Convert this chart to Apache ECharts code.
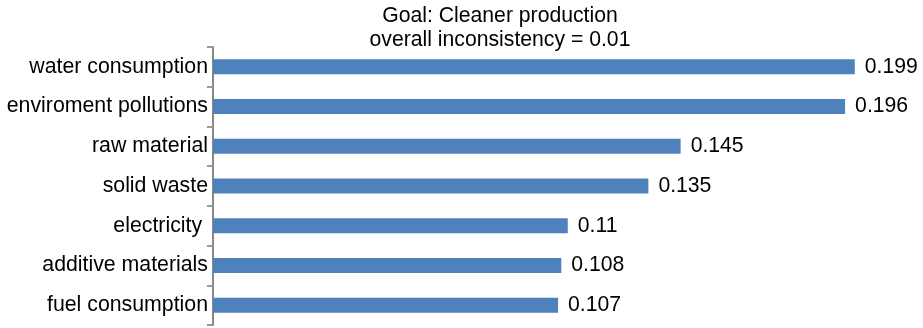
<!DOCTYPE html>
<html>
<head>
<meta charset="utf-8">
<script src="https://cdn.jsdelivr.net/npm/echarts@6/dist/echarts.min.js"></script>
<style>
  html, body { margin: 0; padding: 0; background: #fff; }
  #main { width: 923px; height: 328px; }
</style>
</head>
<body>
<div id="main"></div>
<script>
// criteria, listed bottom to top for the category axis
var categories = ['fuel consumption', 'additive materials', 'electricity ', 'solid waste', 'raw material', 'enviroment pollutions', 'water consumption'];
var weights = [0.107, 0.108, 0.11, 0.135, 0.145, 0.196, 0.199];
var titleLines = ['Goal: Cleaner production', 'overall inconsistency = 0.01'];

var chart = echarts.init(document.getElementById('main'));
chart.setOption({
  animation: false,
  textStyle: { fontFamily: 'Liberation Sans, Arial, sans-serif' },
  title: {
    text: titleLines.join('\n'),
    left: 495,
    top: -1,
    textAlign: 'center',
    textStyle: { fontSize: 21.2, fontWeight: 'normal', color: '#000', lineHeight: 24 }
  },
  grid: { left: 213, right: 65, top: 47, bottom: 3 },
  xAxis: {
    type: 'value',
    min: 0,
    max: 0.2,
    show: false
  },
  yAxis: {
    type: 'category',
    data: categories,
    axisLine: { show: true, lineStyle: { color: '#888', width: 2 } },
    axisTick: { show: true, length: 6, lineStyle: { color: '#999', width: 2 } },
    axisLabel: { color: '#000', fontSize: 21.3, margin: 5 }
  },
  series: [{
    type: 'bar',
    data: weights,
    barWidth: 15,
    itemStyle: { color: '#4F81BD' },
    label: {
      show: true,
      position: 'right',
      distance: 10,
      color: '#000',
      fontSize: 21.2
    }
  }]
});
</script>
</body>
</html>
